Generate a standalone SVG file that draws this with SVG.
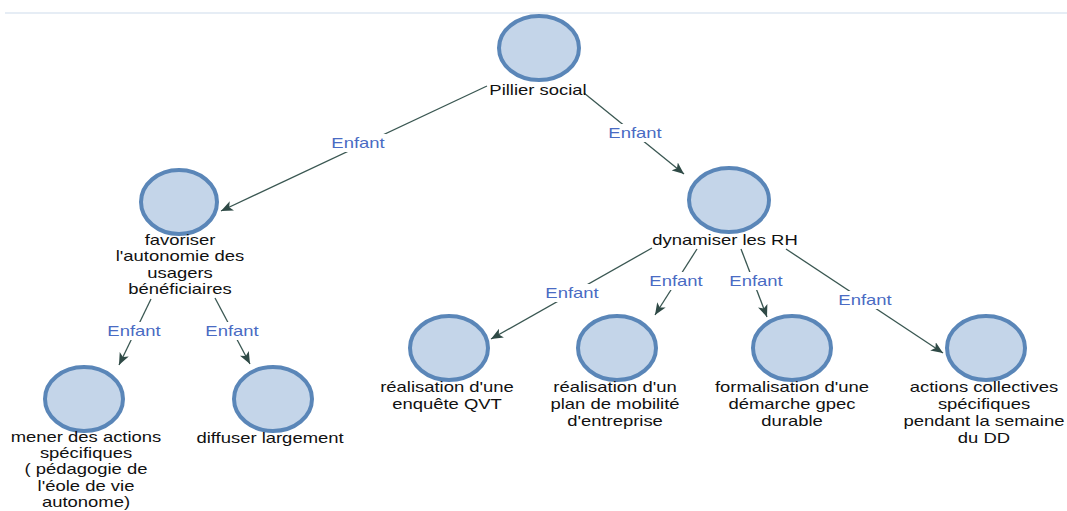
<svg xmlns="http://www.w3.org/2000/svg" width="1067" height="511" viewBox="0 0 1067 511">
<style>
.n{fill:#c4d5e9;stroke:#5a86b8;stroke-width:4}
.t{font-family:"Liberation Sans",Arial,sans-serif;font-size:15px;fill:#111;text-anchor:middle}
.e{font-family:"Liberation Sans",Arial,sans-serif;font-size:15px;fill:#4a6bc3;text-anchor:middle}
.c{stroke:#3a5752;stroke-width:1.3;fill:none;marker-end:url(#a)}
.bg{fill:#fff}
</style>
<defs>
<marker id="a" viewBox="0 0 12 10" refX="12" refY="5" markerWidth="12" markerHeight="10" markerUnits="userSpaceOnUse" orient="auto">
<path d="M0,0 L12,5 L0,10 L3,5 z" fill="#2f4a46"/>
</marker>
</defs>
<rect width="1067" height="511" fill="#fff"/>
<line x1="5" y1="13" x2="1067" y2="13" stroke="#e6edf5" stroke-width="2"/>
<g id="connectors">
<path class="c" d="M487,86 L221,211"/>
<path class="c" d="M584,93 L684,174"/>
<path class="c" d="M151,299 L119,365"/>
<path class="c" d="M215,298 L250,364"/>
<path class="c" d="M652,248 L491,339"/>
<path class="c" d="M697,249 L655,315"/>
<path class="c" d="M741,249 L767,317"/>
<path class="c" d="M786,249 L943,353"/>
<g id="labels">
<rect class="bg" x="330" y="134" width="56" height="18"/>
<text class="e" transform="translate(358,148) scale(1.23,1)">Enfant</text>
<rect class="bg" x="607" y="124" width="56" height="18"/>
<text class="e" transform="translate(635,138) scale(1.23,1)">Enfant</text>
<rect class="bg" x="106" y="322" width="56" height="18"/>
<text class="e" transform="translate(134,336) scale(1.23,1)">Enfant</text>
<rect class="bg" x="204" y="322" width="56" height="18"/>
<text class="e" transform="translate(232,336) scale(1.23,1)">Enfant</text>
<rect class="bg" x="544" y="284" width="56" height="18"/>
<text class="e" transform="translate(572,298) scale(1.23,1)">Enfant</text>
<rect class="bg" x="648" y="272" width="56" height="18"/>
<text class="e" transform="translate(676,286) scale(1.23,1)">Enfant</text>
<rect class="bg" x="728" y="272" width="56" height="18"/>
<text class="e" transform="translate(756,286) scale(1.23,1)">Enfant</text>
<rect class="bg" x="837" y="291" width="56" height="18"/>
<text class="e" transform="translate(865,305) scale(1.23,1)">Enfant</text>
</g>
</g>
<g id="pillier">
<ellipse class="n" cx="539" cy="48" rx="40" ry="32"/>
<text class="t" transform="translate(538,95) scale(1.23,1)">Pillier social</text>
</g>
<g id="favoriser">
<ellipse class="n" cx="179" cy="202" rx="38" ry="32"/>
<text class="t" transform="translate(180,245) scale(1.23,1)"><tspan x="0">favoriser</tspan><tspan x="0" dy="16.5">l'autonomie des</tspan><tspan x="0" dy="16.5">usagers</tspan><tspan x="0" dy="16.5">bénéficiaires</tspan></text>
</g>
<g id="dynamiser">
<ellipse class="n" cx="729" cy="200" rx="40" ry="32"/>
<text class="t" transform="translate(725,245) scale(1.23,1)">dynamiser les RH</text>
</g>
<g id="mener">
<ellipse class="n" cx="84" cy="399" rx="39" ry="32"/>
<text class="t" transform="translate(86,442) scale(1.23,1)"><tspan x="0">mener des actions</tspan><tspan x="0" dy="16.2">spécifiques</tspan><tspan x="0" dy="16.2">( pédagogie de</tspan><tspan x="0" dy="16.2">l'éole de vie</tspan><tspan x="0" dy="16.2">autonome)</tspan></text>
</g>
<g id="diffuser">
<ellipse class="n" cx="273" cy="399" rx="39" ry="32"/>
<text class="t" transform="translate(270,443) scale(1.23,1)">diffuser largement</text>
</g>
<g id="qvt">
<ellipse class="n" cx="449" cy="348" rx="39" ry="32"/>
<text class="t" transform="translate(447,392) scale(1.23,1)"><tspan x="0">réalisation d'une</tspan><tspan x="0" dy="17">enquête QVT</tspan></text>
</g>
<g id="mobilite">
<ellipse class="n" cx="617" cy="348" rx="39" ry="32"/>
<text class="t" transform="translate(615,392) scale(1.23,1)"><tspan x="0">réalisation d'un</tspan><tspan x="0" dy="17">plan de mobilité</tspan><tspan x="0" dy="17">d'entreprise</tspan></text>
</g>
<g id="gpec">
<ellipse class="n" cx="792" cy="348" rx="39" ry="32"/>
<text class="t" transform="translate(792,392) scale(1.23,1)"><tspan x="0">formalisation d'une</tspan><tspan x="0" dy="17">démarche gpec</tspan><tspan x="0" dy="17">durable</tspan></text>
</g>
<g id="actions">
<ellipse class="n" cx="986" cy="348" rx="39" ry="32"/>
<text class="t" transform="translate(984,392) scale(1.23,1)"><tspan x="0">actions collectives</tspan><tspan x="0" dy="17">spécifiques</tspan><tspan x="0" dy="17">pendant la semaine</tspan><tspan x="0" dy="17">du DD</tspan></text>
</g>
</svg>
